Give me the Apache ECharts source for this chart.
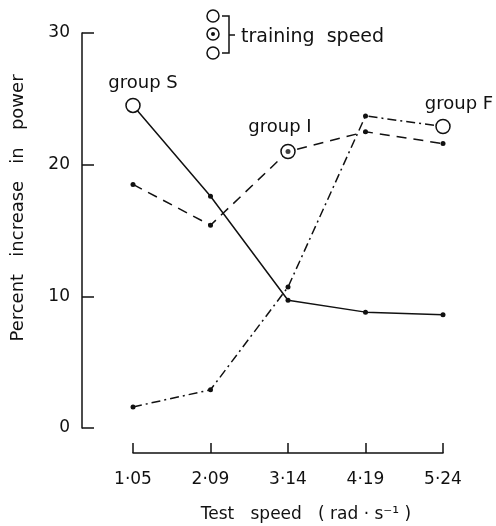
<!DOCTYPE html>
<html><head><meta charset="utf-8">
<script src="https://cdn.jsdelivr.net/npm/echarts@6/dist/echarts.min.js"></script>
<style>html,body{margin:0;padding:0;background:#fff}#c{width:496px;height:526px}</style>
</head><body><div id="c"></div>
<script>
const categories = ['1·05', '2·09', '3·14', '4·19', '5·24'];
const groupS = [24.5, 17.6, 9.7, 8.8, 8.6];
const groupI = [18.5, 15.4, 21.0, 22.5, 21.6];
const groupF = [1.6, 2.9, 10.7, 23.7, 22.9];
const trainingIndex = { S: 0, I: 2, F: 4 };
const yTicks = [0, 10, 20, 30];

const FONT = 'DejaVu Sans';
const ink = '#111';

function pts(arr, train, label) {
  return arr.map((v, i) => {
    if (i === train) {
      return {
        value: v, symbol: 'circle', symbolSize: 14,
        itemStyle: { color: '#fff', borderColor: ink, borderWidth: 1.5 },
        label: label
      };
    }
    return { value: v, symbol: 'circle', symbolSize: 5, itemStyle: { color: ink } };
  });
}
const lab = (txt, off) => ({ show: true, formatter: txt, position: 'top', distance: 5, offset: off,
  color: ink, fontSize: 18, fontFamily: FONT });

const chart = echarts.init(document.getElementById('c'), null, { renderer: 'canvas' });
chart.setOption({
  animation: false,
  backgroundColor: '#fff',
  grid: [
    { left: 82, right: 53, top: 33, bottom: 98 },
    { left: 133, right: 53, top: 33, bottom: 98 }
  ],
  xAxis: [
    { gridIndex: 0, type: 'value', show: false, min: 0, max: 1 },
    { gridIndex: 1, type: 'category', data: categories, boundaryGap: false, offset: 25,
      axisLine: { show: true, onZero: false, lineStyle: { color: ink, width: 1.5 } },
      axisTick: { show: true, inside: true, length: 10, lineStyle: { color: ink, width: 1.5 } },
      axisLabel: { color: ink, fontSize: 17, fontFamily: FONT, margin: 18 },
      splitLine: { show: false } }
  ],
  yAxis: [
    { gridIndex: 0, type: 'value', min: yTicks[0], max: yTicks[yTicks.length - 1], interval: 10,
      axisLine: { show: true, lineStyle: { color: ink, width: 1.5 } },
      axisTick: { show: true, inside: true, length: 12, lineStyle: { color: ink, width: 1.5 } },
      axisLabel: { color: ink, fontSize: 17, fontFamily: FONT, margin: 12 },
      splitLine: { show: false } },
    { gridIndex: 1, type: 'value', min: 0, max: 30, show: false }
  ],
  series: [
    { type: 'line', xAxisIndex: 1, yAxisIndex: 1, data: pts(groupS, trainingIndex.S, lab('group S', [10, 0])),
      lineStyle: { color: ink, width: 1.5, type: 'solid' }, z: 3 },
    { type: 'line', xAxisIndex: 1, yAxisIndex: 1, data: pts(groupI, trainingIndex.I, lab('group I', [-8, -2])),
      lineStyle: { color: ink, width: 1.5, type: [10, 7] }, z: 3 },
    { type: 'line', xAxisIndex: 1, yAxisIndex: 1, data: pts(groupF, trainingIndex.F, lab('group F', [16, 0])),
      lineStyle: { color: ink, width: 1.5, type: [9, 4, 2, 4] }, z: 3 },
    { type: 'scatter', xAxisIndex: 1, yAxisIndex: 1, symbolSize: 5, itemStyle: { color: ink }, z: 5,
      data: [[trainingIndex.I, groupI[trainingIndex.I]]] }
  ],
  graphic: [
    { type: 'circle', shape: { cx: 213, cy: 16, r: 6 }, style: { fill: '#fff', stroke: ink, lineWidth: 1.5 } },
    { type: 'circle', shape: { cx: 213, cy: 34, r: 6 }, style: { fill: '#fff', stroke: ink, lineWidth: 1.5 } },
    { type: 'circle', shape: { cx: 213, cy: 34, r: 2 }, style: { fill: ink } },
    { type: 'circle', shape: { cx: 213, cy: 53, r: 6 }, style: { fill: '#fff', stroke: ink, lineWidth: 1.5 } },
    { type: 'polyline', shape: { points: [[222, 16], [229, 16], [229, 53], [222, 53]] }, style: { stroke: ink, lineWidth: 1.5, fill: null } },
    { type: 'line', shape: { x1: 229, y1: 35, x2: 235, y2: 35 }, style: { stroke: ink, lineWidth: 1.5 } },
    { type: 'text', x: 241, y: 37, style: { text: 'training  speed', fill: ink, fontSize: 19, fontFamily: FONT, verticalAlign: 'middle' } },
    { type: 'text', x: 306, y: 515, style: { text: 'Test   speed   ( rad · s⁻¹ )', fill: ink, fontSize: 17, fontFamily: FONT, align: 'center', verticalAlign: 'middle' } },
    { type: 'text', x: 18, y: 208, rotation: Math.PI / 2, style: { text: 'Percent   increase   in   power', fill: ink, fontSize: 18, fontFamily: FONT, align: 'center', verticalAlign: 'middle' } }
  ]
});
</script></body></html>
